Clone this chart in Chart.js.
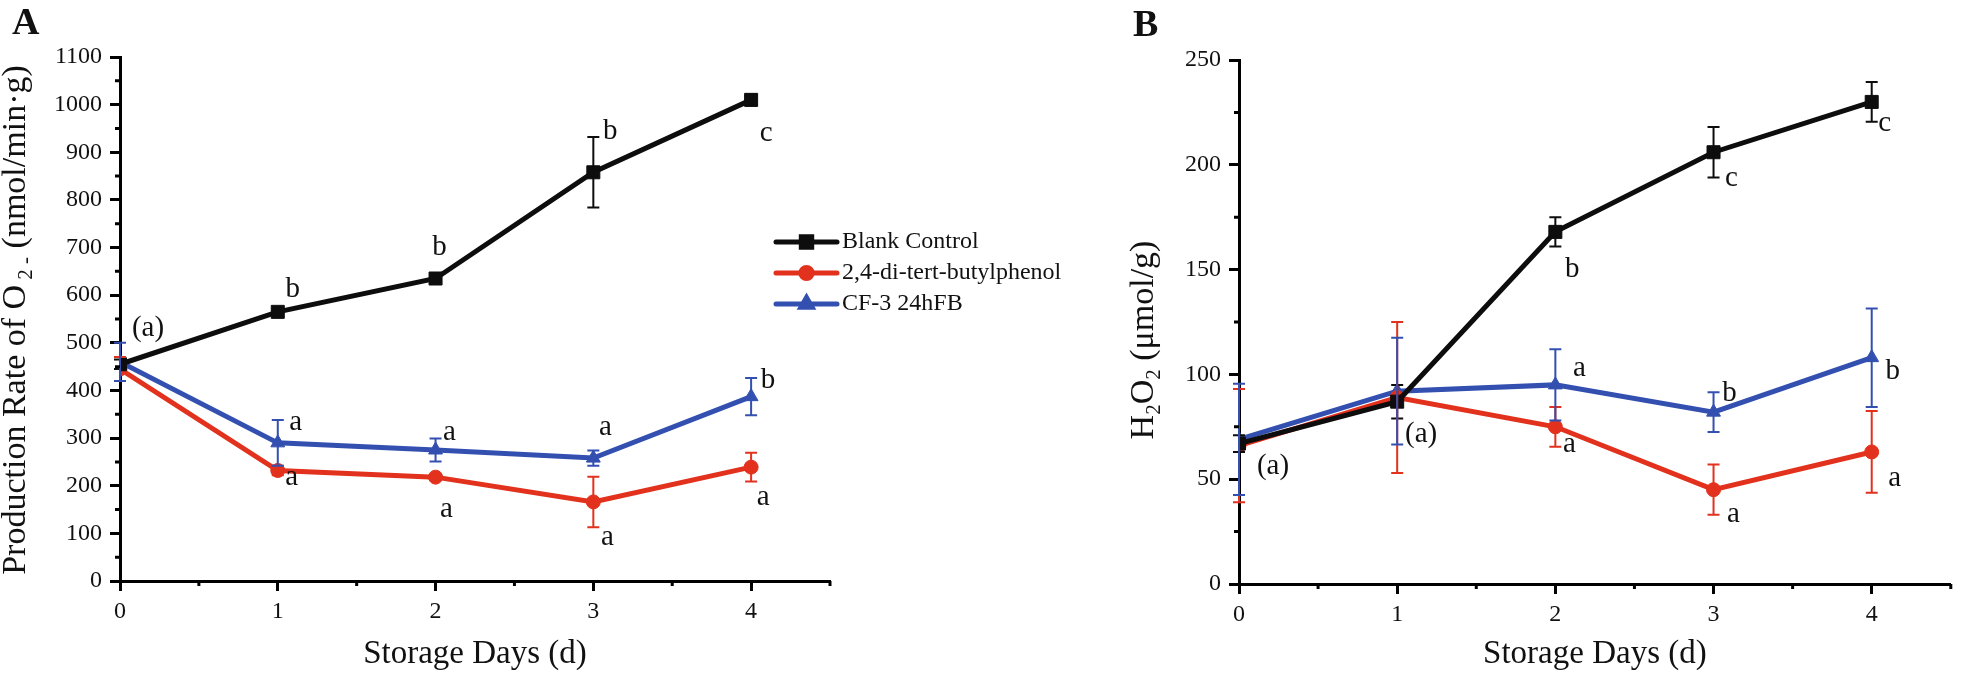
<!DOCTYPE html>
<html>
<head>
<meta charset="utf-8">
<script src="https://cdn.jsdelivr.net/npm/chart.js@4.4.0/dist/chart.umd.min.js"></script>
<style>
  html, body { margin: 0; padding: 0; background: #fff; }
  #wrap { position: relative; width: 1961px; height: 678px; overflow: hidden; }
  #cA { position: absolute; left: 0; top: 0; }
  #cB { position: absolute; left: 1100px; top: 0; }
</style>
</head>
<body>
<div id="wrap">
  <canvas id="cA" width="1100" height="678"></canvas>
  <canvas id="cB" width="861" height="678"></canvas>
</div>
<script>
const days = [0, 1, 2, 3, 4];
const seriesNames = ['Blank Control', '2,4-di-tert-butylphenol', 'CF-3 24hFB'];
const seriesColors = ['#0d0d0d', '#e2311d', '#3350b0'];
const markerStyles = ['rect', 'circle', 'triangle'];
const markerRadius = [9.2, 7, 8];

// Panel A - production rate of O2- (nmol/min.g)
const blankA = [455, 565, 635, 858, 1010];
const blankAErr = [10, 6, 6, 74, 12];
const dtbpA = [445, 232, 218, 166, 239];
const dtbpAErr = [25, 10, 5, 53, 30];
const cfA = [460, 290, 275, 258, 387];
const cfAErr = [40, 48, 24, 16, 39];

const blankASig = ['(a)', 'b', 'b', 'b', 'c'];
const dtbpASig = ['', 'a', 'a', 'a', 'a'];
const cfASig = ['', 'a', 'a', 'a', 'b'];

// Panel B - H2O2 (umol/g)
const blankB = [67, 87, 168, 206, 230];
const blankBErr = [4, 8, 7, 12, 9.5];
const dtbpB = [66, 89, 75, 45, 63];
const dtbpBErr = [27, 36, 9.5, 12, 19.5];
const cfB = [69, 92, 95, 82, 108];
const cfBErr = [26.5, 25.5, 17, 9.5, 23.5];

const blankBSig = ['(a)', '(a)', 'b', 'c', 'c'];
const dtbpBSig = ['', '', 'a', 'a', 'a'];
const cfBSig = ['', '', 'a', 'b', 'b'];

// where the letters sit relative to their point (px)
const blankAPos = [[28, -36], [15, -22], [4, -31], [17, -41], [15, 34]];
const dtbpAPos = [null, [14, 7], [11, 32], [14, 35], [12, 30]];
const cfAPos = [null, [18, -20], [14, -18], [12, -31], [17, -16]];
const blankBPos = [[34, 23], [24, 33], [17, 38], [18, 26], [13, 21]];
const dtbpBPos = [null, null, [14, 18], [20, 25], [23, 26]];
const cfBPos = [null, null, [24, -16], [16, -19], [21, 14]];

const SERIF = '"Liberation Serif", "Times New Roman", serif';
Chart.defaults.font.family = SERIF;
Chart.defaults.color = '#111';

function makeDatasets(vals, errs, sigs, pos) {
  return vals.map((v, s) => ({
    label: seriesNames[s],
    data: days.map((d, i) => ({ x: d, y: v[i] })),
    err: errs[s],
    sig: sigs[s],
    sigPos: pos[s],
    borderColor: seriesColors[s],
    backgroundColor: seriesColors[s],
    borderWidth: 5,
    pointStyle: markerStyles[s],
    pointRadius: markerRadius[s],
    pointBorderWidth: 1,
    pointBorderColor: seriesColors[s],
    pointBackgroundColor: seriesColors[s],
    tension: 0
  }));
}

const isWhole = v => Math.abs(v - Math.round(v)) < 1e-6;

function drawRotatedRich(ctx, parts, x, yMid, size) {
  ctx.save();
  ctx.translate(x, yMid);
  ctx.rotate(-Math.PI / 2);
  ctx.textBaseline = 'alphabetic';
  ctx.textAlign = 'left';
  ctx.fillStyle = '#111';
  const fontFor = p => (p.k ? Math.round(size * 0.62) : size) + 'px ' + SERIF;
  let total = 0;
  parts.forEach(p => { ctx.font = fontFor(p); total += ctx.measureText(p.t).width; });
  let cx = -total / 2;
  parts.forEach(p => {
    ctx.font = fontFor(p);
    const dy = p.k === 'sub' ? size * 0.22 : (p.k === 'sup' ? -size * 0.42 : 0);
    ctx.fillText(p.t, cx, dy);
    cx += ctx.measureText(p.t).width;
  });
  ctx.restore();
}

const panelPlugin = {
  id: 'panelExtras',
  afterDatasetsDraw(chart) {
    const ctx = chart.ctx;
    const xs = chart.scales.x, ys = chart.scales.y;
    // error bars
    chart.data.datasets.forEach(ds => {
      ctx.save();
      ctx.strokeStyle = ds.borderColor;
      ctx.lineWidth = 2;
      ds.data.forEach((p, i) => {
        const e = ds.err[i];
        if (!e) return;
        const px = xs.getPixelForValue(p.x);
        const t = ys.getPixelForValue(p.y + e);
        const b = ys.getPixelForValue(p.y - e);
        ctx.beginPath();
        ctx.moveTo(px, t); ctx.lineTo(px, b);
        ctx.moveTo(px - 6, t); ctx.lineTo(px + 6, t);
        ctx.moveTo(px - 6, b); ctx.lineTo(px + 6, b);
        ctx.stroke();
      });
      ctx.restore();
    });
    // significance letters
    ctx.save();
    ctx.font = '29px ' + SERIF;
    ctx.fillStyle = '#111';
    ctx.textAlign = 'center';
    ctx.textBaseline = 'middle';
    chart.data.datasets.forEach(ds => {
      ds.data.forEach((p, i) => {
        const txt = ds.sig[i];
        const off = ds.sigPos[i];
        if (!txt || !off) return;
        ctx.fillText(txt, xs.getPixelForValue(p.x) + off[0], ys.getPixelForValue(p.y) + off[1]);
      });
    });
    ctx.restore();
  },
  afterDraw(chart, args, opts) {
    const ctx = chart.ctx;
    const xs = chart.scales.x, ys = chart.scales.y;
    // minor ticks
    ctx.save();
    ctx.strokeStyle = '#000';
    ctx.lineWidth = 3;
    ctx.beginPath();
    xs.ticks.forEach(t => {
      if (isWhole(t.value)) return;
      const px = xs.getPixelForValue(t.value);
      ctx.moveTo(px, chart.chartArea.bottom); ctx.lineTo(px, chart.chartArea.bottom + 5);
    });
    ys.ticks.forEach(t => {
      if (t.value % opts.yMajor === 0) return;
      const py = ys.getPixelForValue(t.value);
      ctx.moveTo(chart.chartArea.left, py); ctx.lineTo(chart.chartArea.left - 5, py);
    });
    ctx.stroke();
    ctx.restore();

    // y axis title
    drawRotatedRich(ctx, opts.yTitle, opts.yTitleX, opts.yTitleY, 34);

    // panel letter
    ctx.save();
    ctx.font = 'bold 38px ' + SERIF;
    ctx.fillStyle = '#111';
    ctx.textAlign = 'left';
    ctx.textBaseline = 'alphabetic';
    ctx.fillText(opts.letter, opts.letterX, opts.letterY);
    ctx.restore();

    // legend
    if (opts.legend) {
      const lg = opts.legend;
      chart.data.datasets.forEach((ds, i) => {
        const y = lg.y + i * lg.step;
        ctx.save();
        ctx.strokeStyle = ds.borderColor;
        ctx.lineWidth = 5;
        ctx.lineCap = 'round';
        ctx.beginPath();
        ctx.moveTo(lg.x, y); ctx.lineTo(lg.x + lg.len, y);
        ctx.stroke();
        ctx.fillStyle = ds.backgroundColor;
        Chart.helpers.drawPoint(ctx, {
          pointStyle: ds.pointStyle, radius: ds.pointRadius * 0.8, rotation: 0, borderWidth: 1
        }, lg.x + lg.len / 2, y);
        ctx.font = '24px ' + SERIF;
        ctx.fillStyle = '#111';
        ctx.textAlign = 'left';
        ctx.textBaseline = 'middle';
        ctx.fillText(ds.label, lg.x + lg.len + 5, y);
        ctx.restore();
      });
    }
  }
};

function buildOptions(cfg) {
  return {
    responsive: false,
    animation: false,
    events: [],
    layout: { padding: cfg.padding },
    plugins: {
      legend: { display: false },
      tooltip: { enabled: false },
      panelExtras: cfg.extras
    },
    scales: {
      x: {
        type: 'linear',
        min: 0,
        max: 4.5,
        afterFit: s => { s.height = cfg.xHeight; s.paddingLeft = 0; s.paddingRight = 0; },
        ticks: {
          stepSize: 0.5,
          autoSkip: false,
          maxRotation: 0,
          padding: 6,
          font: { size: 24 },
          callback: v => isWhole(v) ? String(Math.round(v)) : ''
        },
        grid: {
          drawOnChartArea: false,
          tickLength: 10,
          tickWidth: 3,
          tickColor: c => (c.tick && isWhole(c.tick.value)) ? '#000' : 'rgba(0,0,0,0)'
        },
        border: { display: true, color: '#000', width: 3 },
        title: {
          display: true,
          text: 'Storage Days (d)',
          font: { size: 33 },
          color: '#111',
          padding: { top: 0, bottom: 4 }
        }
      },
      y: {
        min: 0,
        max: cfg.yMax,
        afterFit: s => { s.width = cfg.yWidth; s.paddingTop = 0; s.paddingBottom = 0; },
        ticks: {
          stepSize: cfg.yMajor / 2,
          autoSkip: false,
          padding: 8,
          font: { size: 24 },
          callback: v => v % cfg.yMajor === 0 ? String(v) : ''
        },
        grid: {
          drawOnChartArea: false,
          tickLength: 10,
          tickWidth: 3,
          tickColor: c => (c.tick && c.tick.value % cfg.yMajor === 0) ? '#000' : 'rgba(0,0,0,0)'
        },
        border: { display: true, color: '#000', width: 3 }
      }
    }
  };
}

new Chart(document.getElementById('cA'), {
  type: 'line',
  data: {
    datasets: makeDatasets([blankA, dtbpA, cfA], [blankAErr, dtbpAErr, cfAErr],
      [blankASig, dtbpASig, cfASig], [blankAPos, dtbpAPos, cfAPos])
  },
  options: buildOptions({
    padding: { left: 0, top: 57, right: 270, bottom: 0 },
    xHeight: 97,
    yWidth: 120,
    yMax: 1100,
    yMajor: 100,
    extras: {
      yMajor: 100,
      yTitle: [
        { t: 'Production Rate of O' }, { t: ' 2', k: 'sub' }, { t: ' -', k: 'sub' },
        { t: ' (nmol/min·g)' }
      ],
      yTitleX: 25, yTitleY: 320,
      letter: 'A', letterX: 12, letterY: 34,
      legend: { x: 776, y: 242, step: 31, len: 61 }
    }
  }),
  plugins: [panelPlugin]
});

new Chart(document.getElementById('cB'), {
  type: 'line',
  data: {
    datasets: makeDatasets([blankB, dtbpB, cfB], [blankBErr, dtbpBErr, cfBErr],
      [blankBSig, dtbpBSig, cfBSig], [blankBPos, dtbpBPos, cfBPos])
  },
  options: buildOptions({
    padding: { left: 0, top: 60, right: 1, bottom: 0 },
    xHeight: 94,
    yWidth: 139,
    yMax: 250,
    yMajor: 50,
    extras: {
      yMajor: 50,
      yTitle: [
        { t: 'H' }, { t: '2', k: 'sub' }, { t: 'O' }, { t: '2', k: 'sub' }, { t: ' (μmol/g)' }
      ],
      yTitleX: 53, yTitleY: 340,
      letter: 'B', letterX: 33, letterY: 36,
      legend: null
    }
  }),
  plugins: [panelPlugin]
});
</script>
</body>
</html>
